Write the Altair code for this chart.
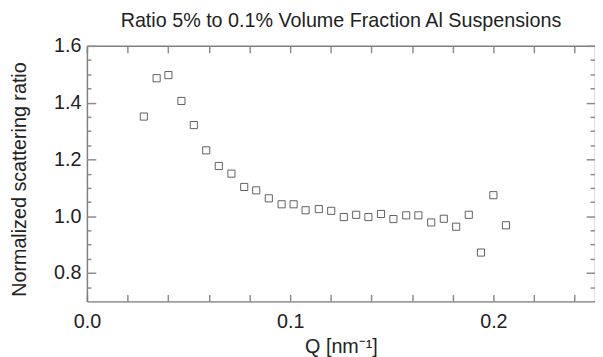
import altair as alt
import pandas as pd

FONT = "Liberation Sans"

# ---- data ----
q_values = [0.0280, 0.0343, 0.0401, 0.0465, 0.0526, 0.0587, 0.0649, 0.0711,
            0.0774, 0.0833, 0.0895, 0.0958, 0.1017, 0.1076, 0.1141, 0.1202,
            0.1264, 0.1325, 0.1385, 0.1447, 0.1508, 0.1571, 0.1631, 0.1694,
            0.1756, 0.1817, 0.1879, 0.1939, 0.2000, 0.2062]
ratio_values = [1.351, 1.486, 1.497, 1.406, 1.321, 1.232, 1.177, 1.150,
                1.103, 1.091, 1.063, 1.042, 1.042, 1.021, 1.025, 1.019,
                0.997, 1.005, 0.997, 1.008, 0.990, 1.003, 1.003, 0.978,
                0.991, 0.963, 1.005, 0.872, 1.074, 0.968]

# ---- axes ----
x_domain = [0.0, 0.25]
y_domain = [0.7, 1.6]
x_label_values = [0.0, 0.1, 0.2]
x_tick_values = [0.0, 0.02, 0.04, 0.06, 0.08, 0.10, 0.12, 0.14, 0.16,
                 0.18, 0.20, 0.22, 0.24]
y_label_values = [0.8, 1.0, 1.2, 1.4, 1.6]
y_minor_values = [0.75, 0.85, 0.9, 0.95, 1.05, 1.1, 1.15, 1.25, 1.3,
                  1.35, 1.45, 1.5, 1.55]

title_text = "Ratio 5% to 0.1% Volume Fraction Al Suspensions"
x_title = "Q [nm\u207b\u00b9]"
y_title = "Normalized scattering ratio"

W, H = 515, 259
AXIS_COLOR = "#808080"
TICK_COLOR = "#8c8c8c"
TEXT_COLOR = "#222222"
FS = 20

df = pd.DataFrame({"q": q_values, "ratio": ratio_values})

xs = alt.Scale(domain=x_domain, nice=False, zero=False)
ys = alt.Scale(domain=y_domain, nice=False, zero=False)


def tick_axis(orient, values, size, offset, domain=False):
    return alt.Axis(orient=orient, values=values, labels=False, ticks=True,
                    tickSize=size, tickColor=TICK_COLOR, tickWidth=1.5,
                    domain=domain, domainColor=AXIS_COLOR, domainWidth=1.5,
                    offset=offset, grid=False, title=None)


base = alt.Chart(df)

main = base.mark_square(filled=False, color="#606060", strokeWidth=1,
                        size=52, opacity=1).encode(
    x=alt.X("q:Q", scale=xs, axis=alt.Axis(
        orient="bottom", values=x_label_values, format=".1f", ticks=False,
        tickSize=0, labelPadding=10, labelFontSize=FS, labelFont=FONT,
        labelColor=TEXT_COLOR, labelFlush=False, domain=True,
        domainColor=AXIS_COLOR, domainWidth=1.5, grid=False, title=x_title,
        titleFont=FONT, titleFontSize=FS, titleFontWeight="normal",
        titleColor=TEXT_COLOR, titlePadding=6)),
    y=alt.Y("ratio:Q", scale=ys, axis=alt.Axis(
        orient="left", values=y_label_values, format=".1f", ticks=False,
        tickSize=0, labelPadding=6, labelFontSize=FS, labelFont=FONT,
        labelColor=TEXT_COLOR, labelFlush=False, domain=True,
        domainColor=AXIS_COLOR, domainWidth=1.5, grid=False, title=y_title,
        titleFont=FONT, titleFontSize=FS, titleFontWeight="normal",
        titleColor=TEXT_COLOR, titlePadding=24, titleY=135)),
)

# inward ticks on bottom edge and left edge (major)
ticks_a = base.mark_point(opacity=0).encode(
    x=alt.X("q:Q", scale=xs, axis=tick_axis("top", x_tick_values, 7, -H)),
    y=alt.Y("ratio:Q", scale=ys, axis=tick_axis("right", y_label_values, 9, -W)),
)
# inward ticks on top edge and right edge (major), with frame lines
ticks_b = base.mark_point(opacity=0).encode(
    x=alt.X("q:Q", scale=xs, axis=tick_axis("bottom", x_tick_values, 7, -H, True)),
    y=alt.Y("ratio:Q", scale=ys, axis=tick_axis("left", y_label_values, 9, -W, True)),
)
# minor y ticks on left edge
ticks_c = base.mark_point(opacity=0).encode(
    x=alt.X("q:Q", scale=xs, axis=None),
    y=alt.Y("ratio:Q", scale=ys, axis=tick_axis("right", y_minor_values, 4, -W)),
)
# minor y ticks on right edge
ticks_d = base.mark_point(opacity=0).encode(
    x=alt.X("q:Q", scale=xs, axis=None),
    y=alt.Y("ratio:Q", scale=ys, axis=tick_axis("left", y_minor_values, 5, -W)),
)

chart = alt.layer(main, ticks_a, ticks_b, ticks_c, ticks_d).resolve_axis(
    x="independent", y="independent"
).properties(
    width=W, height=H,
    autosize=alt.AutoSizeParams(type="none"),
    padding={"left": 80, "top": 36, "right": 0, "bottom": 54},
    title=alt.TitleParams(title_text, font=FONT, fontSize=FS,
                          fontWeight="normal", color=TEXT_COLOR,
                          anchor="middle", frame="group", offset=5),
).configure_view(strokeWidth=0).configure(background="white")

chart.save("out.html", embed_options={"renderer": "svg", "actions": False})
